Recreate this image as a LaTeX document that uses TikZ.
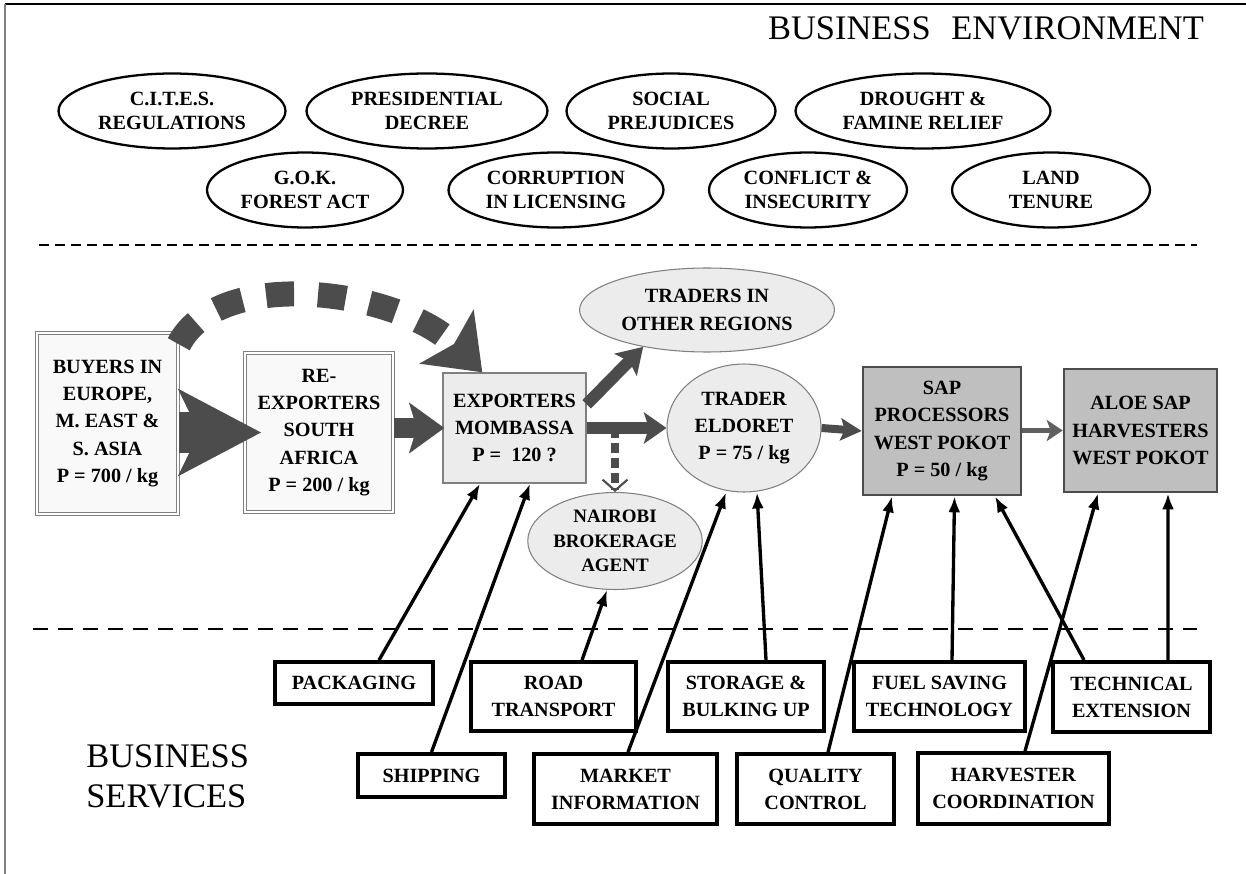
\documentclass[tikz,border=0pt]{standalone}
\usepackage{fontspec}
\setmainfont{Liberation Serif}
\usetikzlibrary{arrows.meta,shapes.geometric,positioning,calc}
\definecolor{flowgray}{gray}{0.3}
\tikzset{
  envoval/.style={ellipse, draw, line width=1.3pt, inner sep=0pt, align=center, minimum height=1.5cm, font=\bfseries\fontsize{11.5}{13.9}\selectfont},
  chainbox/.style={rectangle, inner sep=0pt, align=center, font=\bfseries\fontsize{11.5}{15.6}\selectfont},
  doublebox/.style={chainbox, fill=gray!5, draw=gray, line width=0.9pt, double=white, double distance=1pt},
  procbox/.style={chainbox, fill=gray!50, draw=gray!60!black, line width=1.5pt},
  chainoval/.style={ellipse, fill=gray!15, draw=gray, line width=0.6pt, inner sep=0pt, align=center, font=\bfseries\fontsize{11.5}{15.6}\selectfont},
  svcbox/.style={rectangle, draw, line width=2.2pt, inner sep=0pt, align=center, font=\bfseries\fontsize{11.5}{15.3}\selectfont},
  svcarrow/.style={line width=1.9pt, -{Latex[length=0.32cm,width=0.24cm]}},
  sepline/.style={line width=1.7pt},
}
\begin{document}
\begin{tikzpicture}[x=0.02cm, y=-0.02cm]
    \useasboundingbox (0,0) rectangle (1246,874);
    \draw[line width=0.04cm] (5,4) -- (1246,4);
    \draw[gray, line width=0.04cm] (5,4) -- (5,874);
    \node[font=\fontsize{19.6}{22}\selectfont] (envtitle) at (986,28) {BUSINESS\hspace{0.6em}ENVIRONMENT};
    \node[font=\fontsize{19.6}{22.7}\selectfont, align=left, anchor=west, inner sep=0pt] (svctitle) at (86,776) {BUSINESS\\SERVICES};

    \node[envoval, minimum width=4.54cm] (cites) at (172,111) {C.I.T.E.S.\\REGULATIONS};
    \node[envoval, minimum width=4.82cm] (decree) at (427,111) {PRESIDENTIAL\\DECREE};
    \node[envoval, minimum width=4.18cm] (prejud) at (671,111) {SOCIAL\\PREJUDICES};
    \node[envoval, minimum width=5.10cm] (drought) at (923,111) {DROUGHT \&\\FAMINE RELIEF};
    \node[envoval, minimum width=3.92cm] (gokact) at (305,190) {G.O.K.\\FOREST ACT};
    \node[envoval, minimum width=4.30cm] (corrupt) at (556,190) {CORRUPTION\\IN LICENSING};
    \node[envoval, minimum width=3.96cm] (conflict) at (808,190) {CONFLICT \&\\INSECURITY};
    \node[envoval, minimum width=3.96cm] (tenure) at (1051,190) {LAND\\TENURE};

    \draw[sepline, dash pattern=on 0.21cm off 0.11cm] (39,245) -- (1197,245);
    \draw[sepline, dash pattern=on 0.3cm off 0.2cm] (33,629) -- (1197,629);

    \node[doublebox, minimum width=2.82cm, minimum height=3.62cm] (buyers) at (107.5,423.5) {BUYERS IN\\EUROPE,\\M. EAST \&\\S. ASIA\\P = 700 / kg};
    \node[doublebox, minimum width=2.96cm, minimum height=3.18cm] (reexp) at (319,432.5) {RE-\\EXPORTERS\\SOUTH\\AFRICA\\P = 200 / kg};
    \node[chainbox, fill=gray!15, draw=gray, line width=0.8pt, minimum width=2.86cm, minimum height=2.2cm] (exporters) at (514.5,428) {EXPORTERS\\MOMBASSA\\P =\ \ 120 ?};
    \node[chainoval, minimum width=5.1cm, minimum height=1.68cm] (others) at (707,310) {TRADERS IN\\OTHER REGIONS};
    \node[chainoval, minimum width=3.4cm, minimum height=1.94cm, font=\bfseries\fontsize{10.8}{13.9}\selectfont] (nairobi) at (615,541) {NAIROBI\\BROKERAGE\\AGENT};
    \node[chainoval, minimum width=3.08cm, minimum height=2.56cm] (eldoret) at (744,428) {TRADER\\ELDORET\\P = 75 / kg};
    \node[procbox, minimum width=3.16cm, minimum height=2.56cm] (sapproc) at (942,431) {SAP\\PROCESSORS\\WEST POKOT\\P = 50 / kg};
    \node[procbox, minimum width=3.06cm, minimum height=2.46cm] (harvesters) at (1140.5,430.5) {ALOE SAP\\HARVESTERS\\WEST POKOT};

    \draw[flowgray, line width=0.82cm, -{Stealth[length=1.64cm,width=1.7cm,inset=0.4cm]}] (buyers.east |- reexp.west) -- ([xshift=0.34cm]reexp.west);
    \draw[flowgray, line width=0.4cm, -{Stealth[length=0.7cm,width=1cm,inset=0.15cm]}] (reexp.east |- exporters.west) -- ([xshift=0.04cm]exporters.west);
    \draw[flowgray, line width=0.16cm, dash pattern=on 0.2cm off 0.1cm, -{Straight Barb[length=0.22cm,width=0.5cm,line width=1.2pt]}] (nairobi.north |- exporters.east) -- (nairobi.north);
    \draw[flowgray, line width=0.24cm, -{Stealth[length=0.45cm,width=0.62cm,inset=0.1cm]}] (exporters.east) -- (eldoret.west);
    \draw[flowgray, line width=0.24cm, -{Stealth[length=0.5cm,width=0.62cm,inset=0.1cm]}] ([yshift=-0.64cm]exporters.north east) -- (others.210);
    \draw[flowgray, line width=0.16cm, -{Stealth[length=0.42cm,width=0.44cm,inset=0.08cm]}] (eldoret.east) -- (sapproc.west);
    \draw[gray!75!black, line width=0.1cm, -{Stealth[length=0.32cm,width=0.42cm,inset=0.08cm]}] (sapproc.east |- harvesters.west) -- (harvesters.west);
    \draw[flowgray, line width=0.5cm, dash pattern=on 0.56cm off 0.48cm, -{Stealth[length=1cm,width=1.5cm,inset=0.2cm]}] ([yshift=-0.24cm]buyers.north east) .. controls (220,265) and (400,290) .. ([xshift=0.8cm]exporters.north west);

    \node[svcbox, minimum width=3.16cm, minimum height=0.84cm] (packaging) at (354,683) {PACKAGING};
    \node[svcbox, minimum width=2.94cm, minimum height=0.86cm] (shipping) at (431.5,775.5) {SHIPPING};
    \node[svcbox, minimum width=3.3cm, minimum height=1.38cm] (road) at (553.5,696.5) {ROAD\\TRANSPORT};
    \node[svcbox, minimum width=3.66cm, minimum height=1.4cm] (market) at (625.5,789) {MARKET\\INFORMATION};
    \node[svcbox, minimum width=3.12cm, minimum height=1.38cm] (storage) at (746,696.5) {STORAGE \&\\BULKING UP};
    \node[svcbox, minimum width=3.14cm, minimum height=1.4cm] (quality) at (815.5,789) {QUALITY\\CONTROL};
    \node[svcbox, minimum width=3.42cm, minimum height=1.38cm] (fuel) at (939.5,696.5) {FUEL SAVING\\TECHNOLOGY};
    \node[svcbox, minimum width=3.82cm, minimum height=1.42cm] (harvcoord) at (1013.5,788.5) {HARVESTER\\COORDINATION};
    \node[svcbox, minimum width=3.14cm, minimum height=1.4cm] (techext) at (1131.5,697) {TECHNICAL\\EXTENSION};

    \draw[svcarrow] ([xshift=0.5cm]packaging.north) -- ([xshift=-0.69cm]exporters.south);
    \draw[svcarrow] (shipping.north) -- ([xshift=0.31cm]exporters.south);
    \draw[svcarrow] ([xshift=0.57cm]road.north) -- ([xshift=-0.16cm]nairobi.south);
    \draw[svcarrow] ([xshift=0.05cm]market.north) -- ([xshift=-0.36cm]eldoret.south);
    \draw[svcarrow] ([xshift=0.4cm]storage.north) -- ([xshift=0.26cm]eldoret.south);
    \draw[svcarrow] ([xshift=0.25cm]quality.north) -- ([xshift=-1cm]sapproc.south);
    \draw[svcarrow] ([xshift=0.25cm]fuel.north) -- ([xshift=0.25cm]sapproc.south);
    \draw[svcarrow] ([xshift=-0.95cm]techext.north) -- ([xshift=1.06cm]sapproc.south);
    \draw[svcarrow] ([xshift=0.73cm]techext.north) -- ([xshift=0.55cm]harvesters.south);
    \draw[svcarrow] ([xshift=0.23cm]harvcoord.north) -- ([xshift=-0.85cm]harvesters.south);
\end{tikzpicture}
\end{document}
